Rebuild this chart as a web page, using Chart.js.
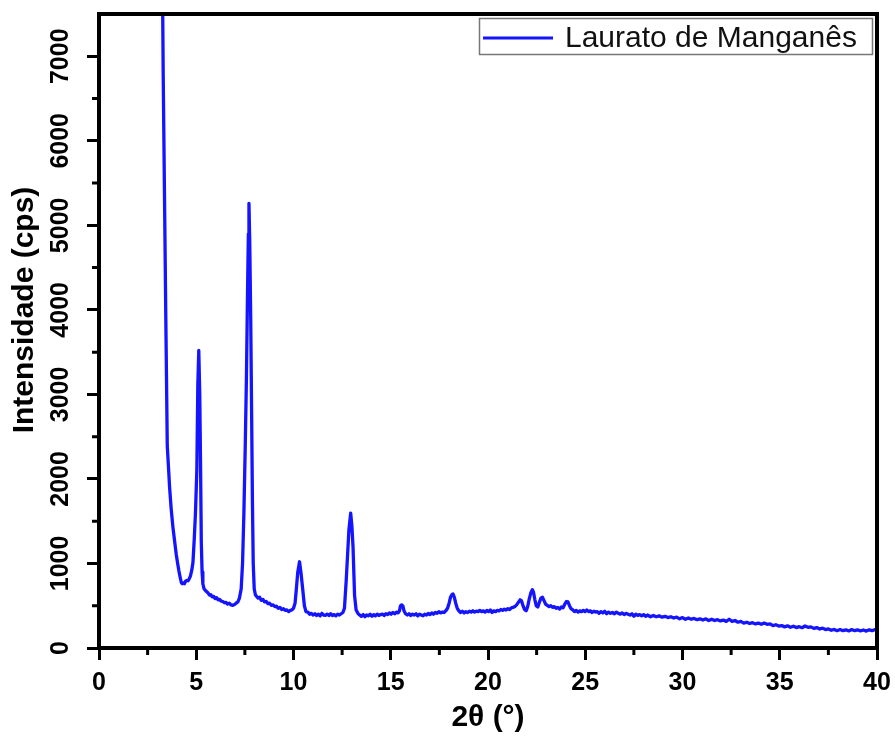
<!DOCTYPE html>
<html><head><meta charset="utf-8">
<script src="https://cdn.jsdelivr.net/npm/chart.js@4.4.1/dist/chart.umd.min.js"></script>
<style>html,body{margin:0;padding:0;background:#fff}#wrap{position:relative;width:895px;height:738px}</style>
</head><body><div id="wrap"><canvas id="c"></canvas></div>
<script>
const seriesLabel = 'Laurato de Manganês';
const xTitle = '2θ (°)';
const yTitle = 'Intensidade (cps)';
const xTickValues = [0, 5, 10, 15, 20, 25, 30, 35, 40];
const yTickValues = [0, 1000, 2000, 3000, 4000, 5000, 6000, 7000];
const xMinorTicks = [2.5, 7.5, 12.5, 17.5, 22.5, 27.5, 32.5, 37.5];
const yMinorTicks = [500, 1500, 2500, 3500, 4500, 5500, 6500];

const twoTheta = [
 3.22,3.30,3.37,3.44,3.51,3.57,3.63,3.71,3.80,3.89,
 3.97,4.05,4.11,4.17,4.23,4.28,4.33,4.39,4.45,4.52,
 4.58,4.64,4.70,4.77,4.83,4.90,4.96,5.03,5.08,5.13,
 5.18,5.22,5.26,5.30,5.34,5.40,5.47,5.54,5.61,5.68,
 5.75,5.82,5.90,5.97,6.05,6.12,6.20,6.28,6.37,6.45,
 6.53,6.61,6.70,6.78,6.88,6.97,7.05,7.14,7.22,7.31,
 7.38,7.45,7.52,7.58,7.63,7.68,7.71,7.75,7.80,7.85,
 7.89,7.93,7.98,8.04,8.10,8.18,8.26,8.34,8.43,8.51,
 8.60,8.68,8.77,8.86,8.95,9.04,9.12,9.21,9.30,9.39,
 9.48,9.57,9.66,9.75,9.84,9.92,10.00,10.08,10.14,10.22,
 10.31,10.39,10.48,10.56,10.64,10.74,10.83,10.92,11.01,11.10,
 11.19,11.28,11.37,11.46,11.55,11.64,11.73,11.82,11.91,12.00,
 12.09,12.18,12.27,12.36,12.45,12.54,12.62,12.71,12.78,12.85,
 12.94,13.00,13.06,13.14,13.22,13.31,13.40,13.49,13.58,13.67,
 13.76,13.85,13.94,14.03,14.12,14.21,14.30,14.39,14.48,14.57,
 14.66,14.75,14.84,14.93,15.02,15.11,15.20,15.29,15.38,15.45,
 15.50,15.56,15.62,15.68,15.76,15.85,15.94,16.03,16.12,16.21,
 16.30,16.39,16.48,16.57,16.66,16.75,16.84,16.93,17.02,17.11,
 17.20,17.29,17.38,17.47,17.56,17.65,17.74,17.83,17.92,18.00,
 18.07,18.14,18.20,18.27,18.34,18.42,18.50,18.59,18.68,18.77,
 18.86,18.95,19.04,19.13,19.22,19.31,19.40,19.49,19.58,19.67,
 19.76,19.85,19.94,20.03,20.12,20.21,20.30,20.39,20.48,20.57,
 20.66,20.75,20.84,20.93,21.02,21.11,21.20,21.29,21.38,21.47,
 21.56,21.65,21.72,21.80,21.88,21.96,22.04,22.12,22.20,22.28,
 22.34,22.41,22.48,22.56,22.64,22.72,22.80,22.88,22.96,23.05,
 23.14,23.23,23.32,23.41,23.50,23.59,23.68,23.77,23.86,23.95,
 24.03,24.11,24.19,24.27,24.36,24.45,24.54,24.63,24.72,24.81,
 24.90,24.99,25.08,25.17,25.26,25.35,25.44,25.53,25.62,25.71,
 25.80,25.90,26.00,26.10,26.20,26.30,26.40,26.50,26.60,26.70,
 26.80,26.90,27.00,27.10,27.20,27.30,27.40,27.50,27.60,27.70,
 27.80,27.90,28.00,28.10,28.20,28.35,28.50,28.65,28.80,28.95,
 29.10,29.25,29.40,29.55,29.70,29.85,30.00,30.15,30.30,30.45,
 30.60,30.75,30.90,31.05,31.20,31.35,31.50,31.65,31.80,31.95,
 32.10,32.25,32.40,32.55,32.70,32.85,33.00,33.15,33.30,33.45,
 33.60,33.75,33.90,34.05,34.20,34.35,34.50,34.65,34.80,34.95,
 35.10,35.25,35.40,35.55,35.70,35.85,36.00,36.15,36.30,36.45,
 36.60,36.75,36.90,37.05,37.20,37.35,37.50,37.65,37.80,37.95,
 38.10,38.25,38.40,38.55,38.70,38.85,39.00,39.15,39.30,39.45,
 39.60,39.75,39.90,40.00
];
const intensity = [
 9200,6800,5300,3800,2390,2150,1900,1650,1430,1260,
 1110,990,910,840,775,760,770,760,790,800,
 795,820,850,920,1010,1300,1600,2100,3100,3520,
 3000,2200,1250,900,760,700,680,665,650,625,
 630,605,610,585,595,570,575,555,550,535,
 540,520,530,510,505,515,530,545,590,700,
 1000,1600,2400,3200,4100,4900,5260,4800,3900,2700,
 1700,1000,700,630,610,590,600,565,575,545,
 550,525,530,505,510,490,495,470,480,455,
 465,445,450,430,445,450,470,530,680,900,
 1020,880,680,500,430,425,400,410,390,405,
 385,400,380,410,390,385,400,385,405,385,
 395,380,400,390,405,420,470,800,1100,1400,
 1595,1450,1200,620,450,410,390,375,395,370,
 390,380,400,375,395,380,400,385,395,400,
 385,405,395,415,400,420,405,425,415,440,
 500,510,500,440,405,390,405,385,400,390,
 405,380,400,390,380,400,390,410,395,415,
 400,420,410,430,415,425,420,440,470,530,
 600,630,640,600,530,470,440,420,435,415,
 430,420,435,425,440,425,435,430,445,430,
 440,425,445,430,450,420,440,430,445,440,
 455,445,460,450,465,455,475,480,490,510,
 540,570,560,500,455,440,490,580,650,690,
 660,570,500,485,540,590,600,560,520,505,
 490,500,480,490,470,480,460,485,475,520,
 550,545,500,465,450,430,445,425,440,430,
 445,430,450,430,440,420,435,425,430,410,
 430,415,435,405,425,410,420,405,425,410,
 400,415,395,410,400,390,405,375,400,385,
 395,380,395,375,390,370,385,370,380,365,
 375,360,370,355,365,345,360,340,355,340,
 350,335,345,330,345,325,340,325,335,320,
 330,315,340,315,325,305,315,295,305,290,
 300,285,295,280,295,280,285,265,275,260,
 265,250,262,245,258,242,252,240,260,245,
 250,232,242,225,235,218,226,210,220,205,
 218,205,215,202,218,205,215,202,213,200,
 215,205,218,210
];

const FONT = '"Liberation Sans", Arial, sans-serif';

const framePlugin = {
  id: 'framePlugin',
  afterDraw(chart) {
    const {ctx, chartArea: {left, right, top, bottom}, scales: {x, y}} = chart;
    ctx.save();
    ctx.strokeStyle = '#000';
    ctx.lineWidth = 4;
    ctx.beginPath();
    ctx.moveTo(left - 2, top); ctx.lineTo(right + 2, top);
    ctx.moveTo(right, top); ctx.lineTo(right, bottom + 2);
    ctx.stroke();
    ctx.lineWidth = 3;
    ctx.beginPath();
    xMinorTicks.forEach(v => { const px = x.getPixelForValue(v); ctx.moveTo(px, bottom); ctx.lineTo(px, bottom + 7); });
    yMinorTicks.forEach(v => { const py = y.getPixelForValue(v); ctx.moveTo(left, py); ctx.lineTo(left - 7, py); });
    ctx.stroke();
    // y axis title
    ctx.save();
    ctx.translate(25, 310);
    ctx.rotate(-Math.PI / 2);
    ctx.font = 'bold 30px ' + FONT;
    ctx.fillStyle = '#000';
    ctx.textAlign = 'center';
    ctx.textBaseline = 'middle';
    ctx.fillText(yTitle, 0, 0);
    ctx.restore();
    // legend box
    const ds = chart.data.datasets[0];
    ctx.fillStyle = '#fff';
    ctx.fillRect(479, 18, 394, 37);
    ctx.strokeStyle = '#777';
    ctx.lineWidth = 1.5;
    ctx.strokeRect(479.5, 18.5, 393, 36);
    ctx.strokeStyle = ds.borderColor;
    ctx.lineWidth = 3;
    ctx.beginPath(); ctx.moveTo(483, 38); ctx.lineTo(553, 38); ctx.stroke();
    ctx.fillStyle = '#111';
    ctx.font = '30px ' + FONT;
    ctx.textAlign = 'left';
    ctx.textBaseline = 'alphabetic';
    ctx.fillText(ds.label, 565, 47);
    ctx.restore();
  }
};

const tickFont = {family: FONT, size: 25, weight: 'bold'};

new Chart(document.getElementById('c'), {
  type: 'line',
  data: {
    datasets: [{
      label: seriesLabel,
      data: twoTheta.map((t, i) => ({x: t, y: intensity[i]})),
      borderColor: 'rgb(20,20,255)',
      borderWidth: 3.3,
      borderJoinStyle: 'round',
      borderCapStyle: 'round',
      pointRadius: 0,
      tension: 0,
      fill: false
    }]
  },
  options: {
    responsive: true,
    maintainAspectRatio: false,
    animation: false,
    layout: {padding: {top: 14, right: 18, left: 0, bottom: 0}},
    plugins: {legend: {display: false}, tooltip: {enabled: false}},
    scales: {
      x: {
        type: 'linear', min: 0, max: 40,
        afterBuildTicks: s => { s.ticks = xTickValues.map(v => ({value: v})); },
        afterFit: s => { s.height = 90; s.paddingLeft = 0; s.paddingRight = 0; },
        ticks: {font: tickFont, color: '#000', padding: 8, maxRotation: 0, autoSkip: false, callback: v => String(v)},
        grid: {drawOnChartArea: false, drawTicks: true, tickLength: 12, tickWidth: 3, tickColor: '#000'},
        border: {display: true, color: '#000', width: 4},
        title: {display: true, text: xTitle, color: '#000', font: {family: FONT, size: 30, weight: 'bold'}, padding: {top: 0, bottom: 2}}
      },
      y: {
        type: 'linear', min: 0, max: 7500,
        afterBuildTicks: s => { s.ticks = yTickValues.map(v => ({value: v})); },
        afterFit: s => { s.width = 99; s.paddingTop = 0; s.paddingBottom = 0; },
        ticks: {font: tickFont, color: '#000', padding: -2, minRotation: 90, maxRotation: 90, crossAlign: 'center', autoSkip: false, callback: v => String(v)},
        grid: {drawOnChartArea: false, drawTicks: true, tickLength: 12, tickWidth: 3, tickColor: '#000'},
        border: {display: true, color: '#000', width: 4}
      }
    }
  },
  plugins: [framePlugin]
});
</script>
</body></html>
